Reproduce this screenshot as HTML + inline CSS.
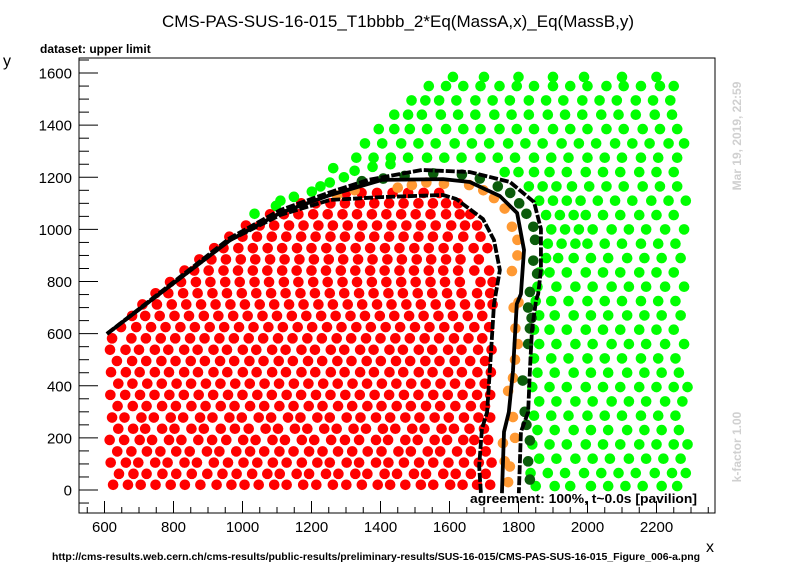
<!DOCTYPE html>
<html><head><meta charset="utf-8"><style>
html,body{margin:0;padding:0;background:#fff;}
svg{display:block;font-family:"Liberation Sans",sans-serif;}
</style></head><body>
<svg id="chart" width="796" height="572" viewBox="0 0 796 572" xmlns="http://www.w3.org/2000/svg">
<rect x="0" y="0" width="796" height="572" fill="#fff"/>
<text x="398" y="27" font-size="17" text-anchor="middle">CMS-PAS-SUS-16-015_T1bbbb_2*Eq(MassA,x)_Eq(MassB,y)</text>
<text x="40" y="53" font-size="12" font-weight="bold">dataset: upper limit</text>
<text x="3" y="66" font-size="16">y</text>
<text x="706" y="552" font-size="16">x</text>
<text x="52" y="560" font-size="10.5" font-weight="bold">http://cms-results.web.cern.ch/cms-results/public-results/preliminary-results/SUS-16-015/CMS-PAS-SUS-16-015_Figure_006-a.png</text>
<text transform="translate(741,136) rotate(-90)" font-size="12" font-weight="bold" fill="#d0d0d0" text-anchor="middle">Mar 19, 2019, 22:59</text>
<text transform="translate(741,447) rotate(-90)" font-size="12" font-weight="bold" fill="#d0d0d0" text-anchor="middle">k-factor 1.00</text>
<g id="plot"></g>
<g id="axes"></g>
<text x="470" y="503" font-size="13" font-weight="bold" textLength="227" lengthAdjust="spacingAndGlyphs">agreement: 100%, t~0.0s [pavilion]</text>
</svg>
<script>
const xTicks=[600,800,1000,1200,1400,1600,1800,2000,2200];
const yTicks=[0,200,400,600,800,1000,1200,1400,1600];
const redRowY=[20,62,105,148,192,235,278,322,365,408,452,495,538,582,625,668,712,755,798,842,885,928,972,1015,1058,1100,1140];
const redRowX=[
[625,668,705,748,792,833,878,925,968,1006,1047,1092,1128,1176,1214,1262,1301,1346,1392,1428,1472,1517,1553,1602,1638,1680,1718],
[642,684,722,768,808,853,898,942,983,1028,1072,1108,1157,1193,1242,1278,1327,1362,1412,1448,1497,1532,1582,1618,1662,1705],
[618,662,698,747,783,832,868,917,958,1003,1043,1088,1128,1172,1217,1253,1302,1338,1387,1423,1468,1512,1553,1597,1642,1685,1722],
[637,678,723,762,808,847,897,933,982,1022,1063,1107,1148,1193,1232,1277,1318,1363,1403,1452,1488,1537,1573,1622,1662,1705],
[615,657,702,738,787,823,872,912,953,1002,1038,1087,1123,1172,1208,1257,1297,1338,1387,1422,1472,1508,1557,1593,1640,1672,1712],
[640,683,718,767,803,852,888,937,978,1018,1067,1103,1152,1188,1237,1273,1322,1358,1407,1443,1492,1528,1577,1613,1658,1700],
[622,658,707,743,792,828,877,913,962,998,1047,1083,1132,1168,1217,1253,1302,1342,1387,1428,1472,1513,1557,1598,1642,1684,1718],
[638,682,722,767,807,852,893,937,977,1022,1063,1107,1148,1192,1232,1277,1318,1362,1403,1447,1488,1532,1573,1617,1662,1703],
[617,660,703,745,788,830,873,915,958,1000,1043,1085,1128,1170,1213,1255,1298,1340,1383,1425,1468,1510,1553,1595,1638,1680,1718],
[640,681,724,766,809,851,894,936,979,1021,1064,1106,1149,1191,1234,1276,1319,1361,1404,1446,1489,1531,1574,1616,1660,1702],
[619,662,702,746,787,831,871,916,956,1001,1041,1086,1126,1171,1211,1256,1296,1341,1381,1426,1466,1511,1551,1596,1636,1681,1720],
[636,680,721,765,806,850,891,935,976,1020,1061,1105,1146,1190,1231,1275,1316,1360,1401,1445,1486,1530,1571,1615,1660,1703],
[616,661,700,746,785,831,870,916,955,1001,1040,1086,1125,1171,1210,1256,1295,1341,1380,1426,1465,1511,1550,1596,1635,1683,1722],
[622,678,720,763,805,848,890,933,975,1018,1060,1103,1145,1188,1230,1273,1315,1358,1400,1443,1485,1528,1570,1613,1655,1695],
[648,692,735,777,820,862,905,947,990,1032,1075,1117,1160,1202,1245,1287,1330,1372,1415,1457,1500,1542,1585,1627,1672,1715],
[680,718,760,803,845,888,930,973,1015,1058,1100,1143,1185,1228,1270,1313,1355,1398,1440,1483,1525,1568,1610,1653,1695],
[710,752,795,837,880,922,965,1007,1050,1092,1135,1177,1220,1262,1305,1347,1390,1432,1475,1517,1560,1602,1645,1688,1725],
[748,785,828,870,913,955,998,1040,1083,1125,1168,1210,1253,1295,1338,1380,1423,1465,1508,1550,1593,1635,1680,1718],
[790,822,865,907,950,992,1035,1077,1120,1162,1205,1247,1290,1332,1375,1417,1460,1502,1545,1587,1630,1690,1725],
[832,860,902,945,987,1030,1072,1115,1157,1200,1242,1285,1327,1370,1412,1455,1497,1540,1582,1625,1672,1715],
[875,910,952,995,1037,1080,1122,1165,1207,1250,1292,1335,1377,1420,1462,1505,1547,1590,1632,1685],
[918,945,988,1030,1073,1115,1158,1200,1243,1285,1328,1370,1413,1455,1498,1540,1583,1625,1670,1710],
[962,1000,1042,1085,1127,1170,1212,1255,1297,1340,1382,1425,1467,1510,1552,1595,1640,1690],
[1010,1050,1092,1135,1177,1220,1262,1305,1347,1390,1432,1475,1517,1560,1605,1645,1680],
[1080,1120,1162,1205,1247,1290,1332,1375,1417,1460,1502,1545,1590,1630,1660],
[1170,1212,1255,1297,1340,1382,1425,1467,1510,1552,1590,1625],
[1300,1345,1390,1435,1480,1525,1570]];
const greenRowY=[15,65,120,175,230,285,340,395,450,505,560,615,670,725,780,835,890,945,1000,1055,1110,1165,1220,1275,1330,1385,1440,1495,1550,1585];
const greenRowX=[
[1850,1905,1950,2010,2060,2110,2160,2215,2260],
[1835,1885,1935,1990,2040,2090,2140,2195,2245,2285],
[1860,1910,1965,2015,2065,2120,2170,2220,2270],
[1840,1890,1940,1995,2045,2095,2150,2200,2250,2290],
[1855,1905,1960,2010,2060,2115,2165,2215,2265],
[1845,1895,1945,2000,2050,2100,2155,2205,2255],
[1860,1910,1965,2015,2070,2120,2170,2225,2275],
[1840,1890,1940,1995,2045,2095,2150,2200,2250,2290],
[1855,1905,1960,2010,2060,2115,2165,2215,2265],
[1845,1895,1945,2000,2050,2100,2155,2205,2255],
[1860,1910,1965,2015,2070,2120,2170,2225,2280],
[1845,1890,1940,1995,2045,2095,2150,2200,2250],
[1860,1905,1960,2010,2060,2115,2165,2215,2270],
[1850,1895,1945,2000,2050,2100,2155,2205,2255],
[1855,1910,1965,2015,2070,2120,2170,2225,2280],
[1860,1890,1940,1995,2045,2095,2150,2200,2250],
[1880,1915,1960,2010,2060,2115,2165,2215,2270],
[1885,1925,1965,2000,2050,2100,2155,2205,2255],
[1895,1935,1975,2015,2070,2120,2170,2225,2280],
[1880,1920,1960,1995,2045,2095,2150,2200,2250],
[1860,1900,1940,1980,2030,2080,2130,2185,2235,2285],
[1830,1870,1910,1955,2005,2055,2105,2160,2210,2260],
[1760,1800,1845,1890,1940,1995,2045,2095,2150,2200,2250],
[1330,1380,1430,1480,1535,1585,1635,1690,1740,1790,1845,1895,1945,2000,2050,2100,2155,2205,2260],
[1355,1405,1460,1510,1560,1615,1665,1715,1770,1820,1870,1925,1975,2025,2080,2130,2180,2235,2280],
[1395,1440,1485,1535,1590,1640,1690,1745,1795,1845,1900,1950,2000,2055,2105,2160,2210,2260],
[1440,1480,1520,1575,1625,1675,1730,1780,1830,1885,1935,1985,2040,2090,2140,2195,2245],
[1490,1530,1570,1620,1675,1725,1775,1830,1880,1930,1985,2035,2085,2140,2190,2240],
[1540,1590,1640,1690,1745,1795,1845,1900,1950,2000,2055,2105,2155,2210,2250],
[1610,1700,1800,1900,1990,2100,2200]];
const greenEdge=[[1035,1060],[1097,1090],[1110,1110],[1149,1125],[1201,1145],[1226,1165],[1253,1180],[1294,1200],[1325,1225],[1263,1235],[1377,1240],[1429,1250]];
const orangePts=[[1770,30],[1775,90],[1760,110],[1755,180],[1790,200],[1784,280],[1770,380],[1784,430],[1790,500],[1798,560],[1791,620],[1786,700],[1800,720],[1781,840],[1797,900],[1797,960],[1781,1010],[1760,1080],[1729,1120],[1698,1150],[1657,1170],[1584,1175],[1533,1180],[1491,1170],[1450,1160],[1325,1150],[1274,1130]];
const darkGreenPts=[[1833,40],[1828,110],[1833,190],[1823,250],[1818,300],[1812,420],[1828,560],[1833,620],[1838,660],[1828,700],[1833,760],[1854,830],[1843,880],[1848,960],[1843,1010],[1823,1060],[1802,1100],[1776,1140],[1740,1165],[1688,1195],[1636,1210],[1553,1215],[1470,1205],[1408,1195],[1346,1185]];
const innerLine=[[607,599],[964,959],[1109,1055],[1254,1113],[1404,1124],[1581,1132],[1619,1117],[1697,1040],[1729,959],[1746,844],[1729,714],[1720,522],[1709,299],[1694,234],[1686,92],[1691,-12]];
const centralLine=[[607,599],[964,959],[1109,1063],[1254,1132],[1404,1190],[1581,1193],[1659,1182],[1746,1128],[1796,1063],[1816,921],[1807,752],[1795,714],[1784,457],[1772,299],[1758,223],[1752,-12]];
const outerLine=[[607,599],[964,967],[1109,1074],[1257,1144],[1364,1190],[1520,1228],[1659,1220],[1775,1182],[1845,1105],[1865,1002],[1865,844],[1857,752],[1851,729],[1839,614],[1833,457],[1828,299],[1807,223],[1801,-12]];

const L=79,R=715,T=58,B=513;
const sx=v=>104.5+(v-600)*0.345;
const sy=v=>490-v*0.2606;
const NS='http://www.w3.org/2000/svg';
const plot=document.getElementById('plot'), axes=document.getElementById('axes');
function mk(tag,attrs,parent){const e=document.createElementNS(NS,tag);for(const k in attrs)e.setAttribute(k,attrs[k]);parent.appendChild(e);return e;}
function dot(x,y,c,name){const e=mk('circle',{cx:sx(x),cy:sy(y),r:5.3,fill:c},plot);

}
redRowY.forEach((y,i)=>redRowX[i].forEach(x=>dot(x,y,'#ff0000','excluded-point')));
greenRowY.forEach((y,i)=>greenRowX[i].forEach(x=>dot(x,y,'#00ff00','allowed-point')));
greenEdge.forEach(p=>dot(p[0],p[1],'#00ff00','allowed-point'));
orangePts.forEach(p=>dot(p[0],p[1],'#ff9933','orange-point'));
darkGreenPts.forEach(p=>dot(p[0],p[1],'#0b5c0b','dark-green-point'));
function line(pts,dash,name){const e=mk('polyline',{points:pts.map(p=>sx(p[0])+','+Math.min(sy(p[1]),B)).join(' '),fill:'none',stroke:'#000','stroke-width':3.8,'stroke-linejoin':'round'},plot);
if(dash)e.setAttribute('stroke-dasharray',dash);

}
line(innerLine,'9,2','inner-dashed-contour');
line(outerLine,'9,2','outer-dashed-contour');
line(centralLine,null,'central-contour');
const fr=mk('rect',{x:L,y:T,width:R-L,height:B-T,fill:'none',stroke:'#000','stroke-width':1},axes);


for(let v=550;v<=2400;v+=50){const X=sx(v);if(X<L||X>R)continue;const maj=v%200===0;
const t=mk('line',{x1:X,x2:X,y1:B,y2:B-(maj?12:6),stroke:'#000','stroke-width':1},axes);

}
for(let v=-50;v<=1650;v+=50){const Y=sy(v);if(Y<T||Y>B)continue;const maj=v%200===0;
const t=mk('line',{x1:L,x2:L+(maj?19:10),y1:Y,y2:Y,stroke:'#000','stroke-width':1},axes);

}
xTicks.forEach(v=>{const t=mk('text',{x:sx(v),y:532,'font-size':15,'text-anchor':'middle'},axes);t.textContent=v;

});
yTicks.forEach(v=>{const t=mk('text',{x:72,y:sy(v)+5.5,'font-size':15,'text-anchor':'end'},axes);t.textContent=v;

});
</script>
</body></html>
